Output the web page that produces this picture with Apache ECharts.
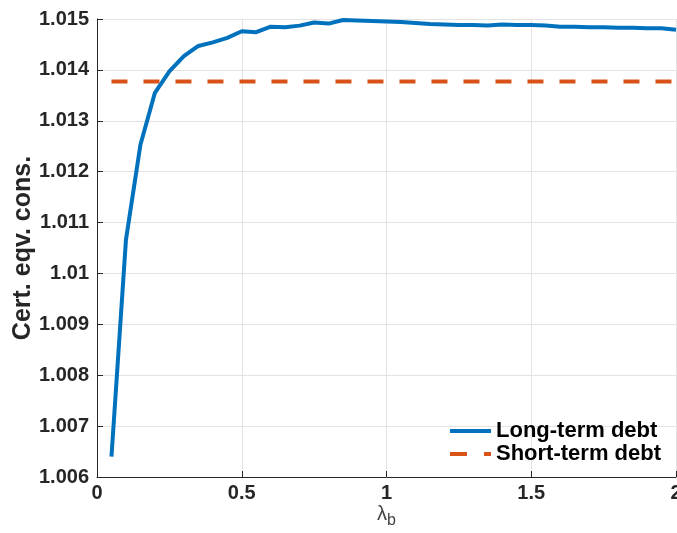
<!DOCTYPE html>
<html><head><meta charset="utf-8">
<script src="https://cdn.jsdelivr.net/npm/echarts@6/dist/echarts.min.js"></script>
<style>html,body{margin:0;padding:0;background:#fff}#c{width:677px;height:533px}</style>
</head><body><div id="c"></div>
<script>
const lambdaB = [0.05,0.10,0.15,0.20,0.25,0.30,0.35,0.40,0.45,0.50,0.55,0.60,0.65,0.70,0.75,0.80,0.85,0.90,0.95,1.00,1.05,1.10,1.15,1.20,1.25,1.30,1.35,1.40,1.45,1.50,1.55,1.60,1.65,1.70,1.75,1.80,1.85,1.90,1.95,2.00];
const longTerm = [1.0064,1.01066,1.01253,1.01355,1.01397,1.01427,1.01447,1.01454,1.01463,1.01476,1.01474,1.01485,1.01484,1.01487,1.01493,1.01491,1.01498,1.01497,1.01496,1.01495,1.01494,1.01492,1.01490,1.01489,1.01488,1.01488,1.01487,1.01489,1.01488,1.01488,1.01487,1.01485,1.01485,1.01484,1.01484,1.01483,1.01483,1.01482,1.01482,1.01479];
const shortTermValue = 1.01377;
const shortTerm = lambdaB.map(() => shortTermValue);
const yTicks = {min:1.006, max:1.015, interval:0.001};
const xTicks = {min:0, max:2, interval:0.5};

const chart = echarts.init(document.getElementById('c'));
const font = 'Liberation Sans, Helvetica, Arial, sans-serif';
chart.setOption({
  animation:false,
  grid:{left:97,right:1,top:19,bottom:56,containLabel:false,outerBoundsMode:'none'},
  legend:{
    orient:'vertical', left:443, top:415, itemWidth:41, itemHeight:14, itemGap:1,
    itemStyle:{opacity:0},
    textStyle:{fontFamily:font,fontWeight:'bold',fontSize:22,color:'#000'},
    data:[
      {name:'Long-term debt', lineStyle:{width:4,color:'#0072BD',type:'solid'}},
      {name:'Short-term debt', lineStyle:{width:4,color:'#D95319',type:[17,17]}}
    ]
  },
  xAxis:{
    type:'value', min:xTicks.min, max:xTicks.max, interval:xTicks.interval,
    name:'{l|λ}{s|b}', nameLocation:'middle', nameGap:22, nameMoveOverlap:false,
    nameTextStyle:{rich:{l:{fontFamily:font,fontSize:20,color:'#444'},s:{fontFamily:font,fontSize:16,color:'#444',padding:[14,0,0,0]}}},
    axisLine:{lineStyle:{color:'#262626',width:1}},
    axisTick:{inside:true,length:6,lineStyle:{color:'#262626'}},
    axisLabel:{fontFamily:font,fontWeight:'bold',fontSize:20,color:'#262626',margin:6,formatter:v=>String(parseFloat(v.toFixed(2)))},
    splitLine:{show:true,lineStyle:{color:'#e3e3e3',width:1}}
  },
  yAxis:{
    type:'value', min:yTicks.min, max:yTicks.max, interval:yTicks.interval,
    name:'Cert. eqv. cons.', nameLocation:'middle', nameGap:61, nameMoveOverlap:false,
    nameTextStyle:{fontFamily:font,fontWeight:'bold',fontSize:25,color:'#262626'},
    axisLine:{show:true,lineStyle:{color:'#262626',width:1}},
    axisTick:{show:true,inside:true,length:6,lineStyle:{color:'#262626'}},
    axisLabel:{fontFamily:font,fontWeight:'bold',fontSize:20,color:'#262626',margin:8,formatter:v=>String(parseFloat(v.toFixed(3)))},
    splitLine:{show:true,lineStyle:{color:'#e3e3e3',width:1}}
  },
  series:[
    {name:'Long-term debt',type:'line',data:lambdaB.map((x,i)=>[x,longTerm[i]]),symbol:'none',
     lineStyle:{color:'#0072BD',width:4},itemStyle:{color:'#0072BD'}},
    {name:'Short-term debt',type:'line',data:lambdaB.map((x,i)=>[x,shortTerm[i]]),symbol:'none',
     lineStyle:{color:'#D95319',width:4,type:[16,16]},itemStyle:{color:'#D95319'}}
  ]
});
</script></body></html>
